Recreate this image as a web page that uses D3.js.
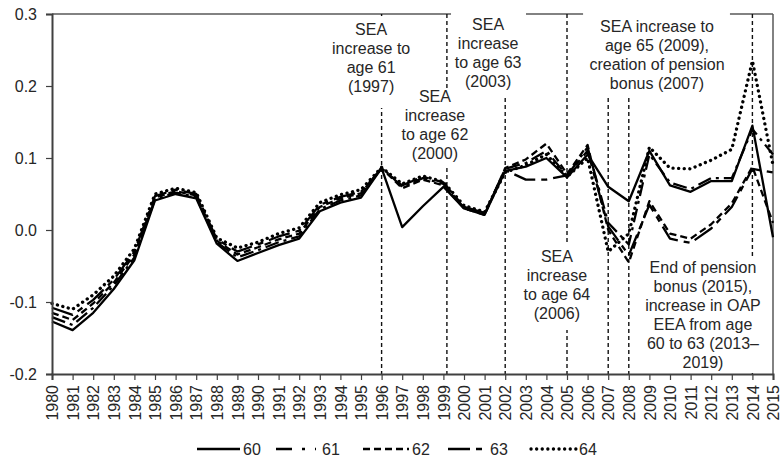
<!DOCTYPE html>
<html>
<head>
<meta charset="utf-8">
<script src="https://cdn.jsdelivr.net/npm/d3@7/dist/d3.min.js"></script>
<style>
  html, body { margin: 0; padding: 0; background: #fff; }
  svg text { font-family: "Liberation Sans", Arial, sans-serif; }
</style>
</head>
<body>
<svg id="chart" width="782" height="461"></svg>
<script>
// Years on the horizontal axis
const years = [1980,1981,1982,1983,1984,1985,1986,1987,1988,1989,
               1990,1991,1992,1993,1994,1995,1996,1997,1998,1999,
               2000,2001,2002,2003,2004,2005,2006,2007,2008,2009,
               2010,2011,2012,2013,2014,2015];

// One series per age
const age60 = [-0.127,-0.139,-0.115,-0.082,-0.042,0.041,0.050,0.044,-0.019,-0.043,
               -0.032,-0.021,-0.012,0.026,0.038,0.045,0.086,0.004,0.033,0.060,
               0.030,0.021,0.082,0.088,0.100,0.073,0.105,0.060,0.040,0.110,
               0.062,0.053,0.068,0.068,0.145,-0.010];
const age61 = [-0.121,-0.132,-0.108,-0.077,-0.038,0.043,0.052,0.046,-0.017,-0.038,
               -0.028,-0.017,-0.009,0.029,0.041,0.048,0.087,0.060,0.072,0.064,
               0.031,0.022,0.085,0.093,0.110,0.075,0.115,0.010,-0.020,0.105,
               0.066,0.057,0.072,0.072,0.140,0.105];
const age62 = [-0.115,-0.125,-0.102,-0.073,-0.034,0.045,0.054,0.048,-0.015,-0.034,
               -0.024,-0.013,-0.005,0.032,0.044,0.051,0.086,0.058,0.070,0.062,
               0.030,0.021,0.086,0.098,0.120,0.078,0.118,0.000,-0.045,0.040,
               -0.005,-0.012,0.008,0.037,0.088,0.010];
const age63 = [-0.108,-0.118,-0.097,-0.069,-0.030,0.047,0.056,0.050,-0.013,-0.030,
               -0.020,-0.009,-0.001,0.035,0.046,0.053,0.085,0.062,0.074,0.066,
               0.032,0.024,0.083,0.070,0.070,0.076,0.110,0.005,-0.035,0.035,
               -0.012,-0.018,0.002,0.032,0.085,0.080];
const age64 = [-0.102,-0.110,-0.090,-0.064,-0.026,0.050,0.058,0.052,-0.011,-0.025,
               -0.017,-0.005,0.003,0.038,0.049,0.056,0.087,0.064,0.075,0.067,
               0.034,0.025,0.080,0.090,0.105,0.074,0.100,-0.030,-0.005,0.115,
               0.086,0.085,0.097,0.112,0.235,0.090];

const seriesNames = ["60", "61", "62", "63", "64"];
const seriesValues = [age60, age61, age62, age63, age64];

// Y axis ticks
const yTicks = [-0.2, -0.1, 0.0, 0.1, 0.2, 0.3];
const yTickLabels = ["-0.2", "-0.1", "0.0", "0.1", "0.2", "0.3"];

// Policy events marked with vertical dashed lines
const eventYears = [1996, 1999.17, 2002, 2005, 2007, 2008, 2014];

// Event notes
const notes = [
  { lines: ["SEA", "increase to", "age 61", "(1997)"],
    cx: 1995.49, top: 0.2708, box: [1993.5, 1997.48, 0.2972, 0.1694] },
  { lines: ["SEA", "increase", "to age 62", "(2000)"],
    cx: 1998.59, top: 0.1778, box: [1996.8, 2000.39, 0.1972, 0.0889] },
  { lines: ["SEA", "increase", "to age 63", "(2003)"],
    cx: 2001.17, top: 0.2778, box: [1999.37, 2003.01, 0.3083, 0.1875] },
  { lines: ["SEA", "increase", "to age 64", "(2006)"],
    cx: 2004.51, top: -0.0444, box: [2002.72, 2006.31, -0.0181, -0.1389] },
  { lines: ["SEA increase to", "age 65 (2009),", "creation of pension", "bonus (2007)"],
    cx: 2009.37, top: 0.275, box: [2005.78, 2012.91, 0.3083, 0.1847] },
  { lines: ["End of pension", "bonus (2015),", "increase in OAP", "EEA from age", "60 to 63 (2013\u2013", "2019)"],
    cx: 2011.6, top: -0.0597, box: [2008.5, 2014.9, -0.0361, -0.1986] }
];

// Line styles per series
const dashes = ["none", "14,5,3,5", "7,4", "22,6,6,6", "0.1,5.5"];
const widths = [2.3, 2.3, 2.3, 2.3, 3.3];

const svg = d3.select("#chart");
const x = d3.scaleLinear().domain([1980, 2015]).range([52, 773]);
const y = d3.scaleLinear().domain([-0.2, 0.3]).range([374, 14]);
const textColor = "#262626";

// Plot frame (top and right)
svg.append("line").attr("x1", x(1980)).attr("x2", x(2015)).attr("y1", y(0.3)).attr("y2", y(0.3))
  .attr("stroke", "#595959").attr("stroke-width", 1.5);
svg.append("line").attr("x1", x(2015)).attr("x2", x(2015)).attr("y1", y(0.3)).attr("y2", y(-0.2))
  .attr("stroke", "#595959").attr("stroke-width", 1.5);

// Event lines
svg.append("g").selectAll("line").data(eventYears).join("line")
  .attr("x1", d => x(d)).attr("x2", d => x(d))
  .attr("y1", y(0.3)).attr("y2", y(-0.2))
  .attr("stroke", "#111").attr("stroke-width", 1.4)
  .attr("stroke-dasharray", "4,3");

// Event notes on white boxes
const noteG = svg.append("g").selectAll("g").data(notes).join("g");
noteG.append("rect")
  .attr("x", d => x(d.box[0])).attr("width", d => x(d.box[1]) - x(d.box[0]))
  .attr("y", d => y(d.box[2])).attr("height", d => y(d.box[3]) - y(d.box[2]))
  .attr("fill", "#fff");
noteG.each(function(d) {
  const t = d3.select(this).append("text")
    .attr("text-anchor", "middle").attr("font-size", 16).attr("fill", textColor);
  d.lines.forEach((s, i) => {
    t.append("tspan").attr("x", x(d.cx)).attr("y", y(d.top) + i * 19).text(s);
  });
});

// Series lines
const line = d3.line().x((d, i) => x(years[i])).y(d => y(d));
svg.append("g").selectAll("path").data(seriesValues).join("path")
  .attr("d", d => line(d))
  .attr("fill", "none").attr("stroke", "#000")
  .attr("stroke-width", (d, i) => widths[i])
  .attr("stroke-dasharray", (d, i) => dashes[i])
  .attr("stroke-linecap", (d, i) => i === 4 ? "round" : "butt")
  .attr("stroke-linejoin", "round");

// Y axis
const yAxis = svg.append("g").attr("transform", `translate(${x(1980)},0)`)
  .call(d3.axisLeft(y).tickValues(yTicks).tickFormat((d, i) => yTickLabels[i]).tickSize(6).tickPadding(9));
yAxis.select(".domain").attr("stroke", "#404040").attr("stroke-width", 2);
yAxis.selectAll(".tick line").attr("stroke", "#404040").attr("stroke-width", 1.2);
yAxis.selectAll(".tick text").attr("font-size", 16).attr("fill", textColor)
  .attr("font-family", "Liberation Sans, Arial, sans-serif");

// X axis
const xAxis = svg.append("g").attr("transform", `translate(0,${y(-0.2)})`)
  .call(d3.axisBottom(x).tickValues(years).tickFormat(d3.format("d")).tickSize(6).tickPadding(0));
xAxis.select(".domain").attr("stroke", "#404040").attr("stroke-width", 2);
xAxis.selectAll(".tick line").attr("stroke", "#404040").attr("stroke-width", 1.2);
xAxis.selectAll(".tick text")
  .attr("font-size", 16).attr("fill", textColor)
  .attr("font-family", "Liberation Sans, Arial, sans-serif")
  .attr("transform", "rotate(-90)")
  .attr("text-anchor", "end")
  .attr("x", -11).attr("y", 0).attr("dy", "0.35em");

// Legend
const legendItems = [
  { x0: 197, x1: 240, tx: 243 },
  { x0: 276, x1: 316, tx: 322 },
  { x0: 363, x1: 409, tx: 412 },
  { x0: 448, x1: 487, tx: 490 },
  { x0: 531, x1: 576, tx: 579 }
];
const legendY = 449;
const lg = svg.append("g").selectAll("g").data(seriesNames).join("g");
lg.append("line")
  .attr("x1", (d, i) => legendItems[i].x0).attr("x2", (d, i) => legendItems[i].x1)
  .attr("y1", legendY).attr("y2", legendY)
  .attr("stroke", "#000")
  .attr("stroke-width", (d, i) => widths[i])
  .attr("stroke-dasharray", (d, i) => i === 1 ? "16,10,3,10" : dashes[i])
  .attr("stroke-linecap", (d, i) => i === 4 ? "round" : "butt");
lg.append("text")
  .attr("x", (d, i) => legendItems[i].tx).attr("y", legendY + 6)
  .attr("font-size", 16).attr("fill", textColor)
  .text(d => d);
</script>
</body>
</html>
